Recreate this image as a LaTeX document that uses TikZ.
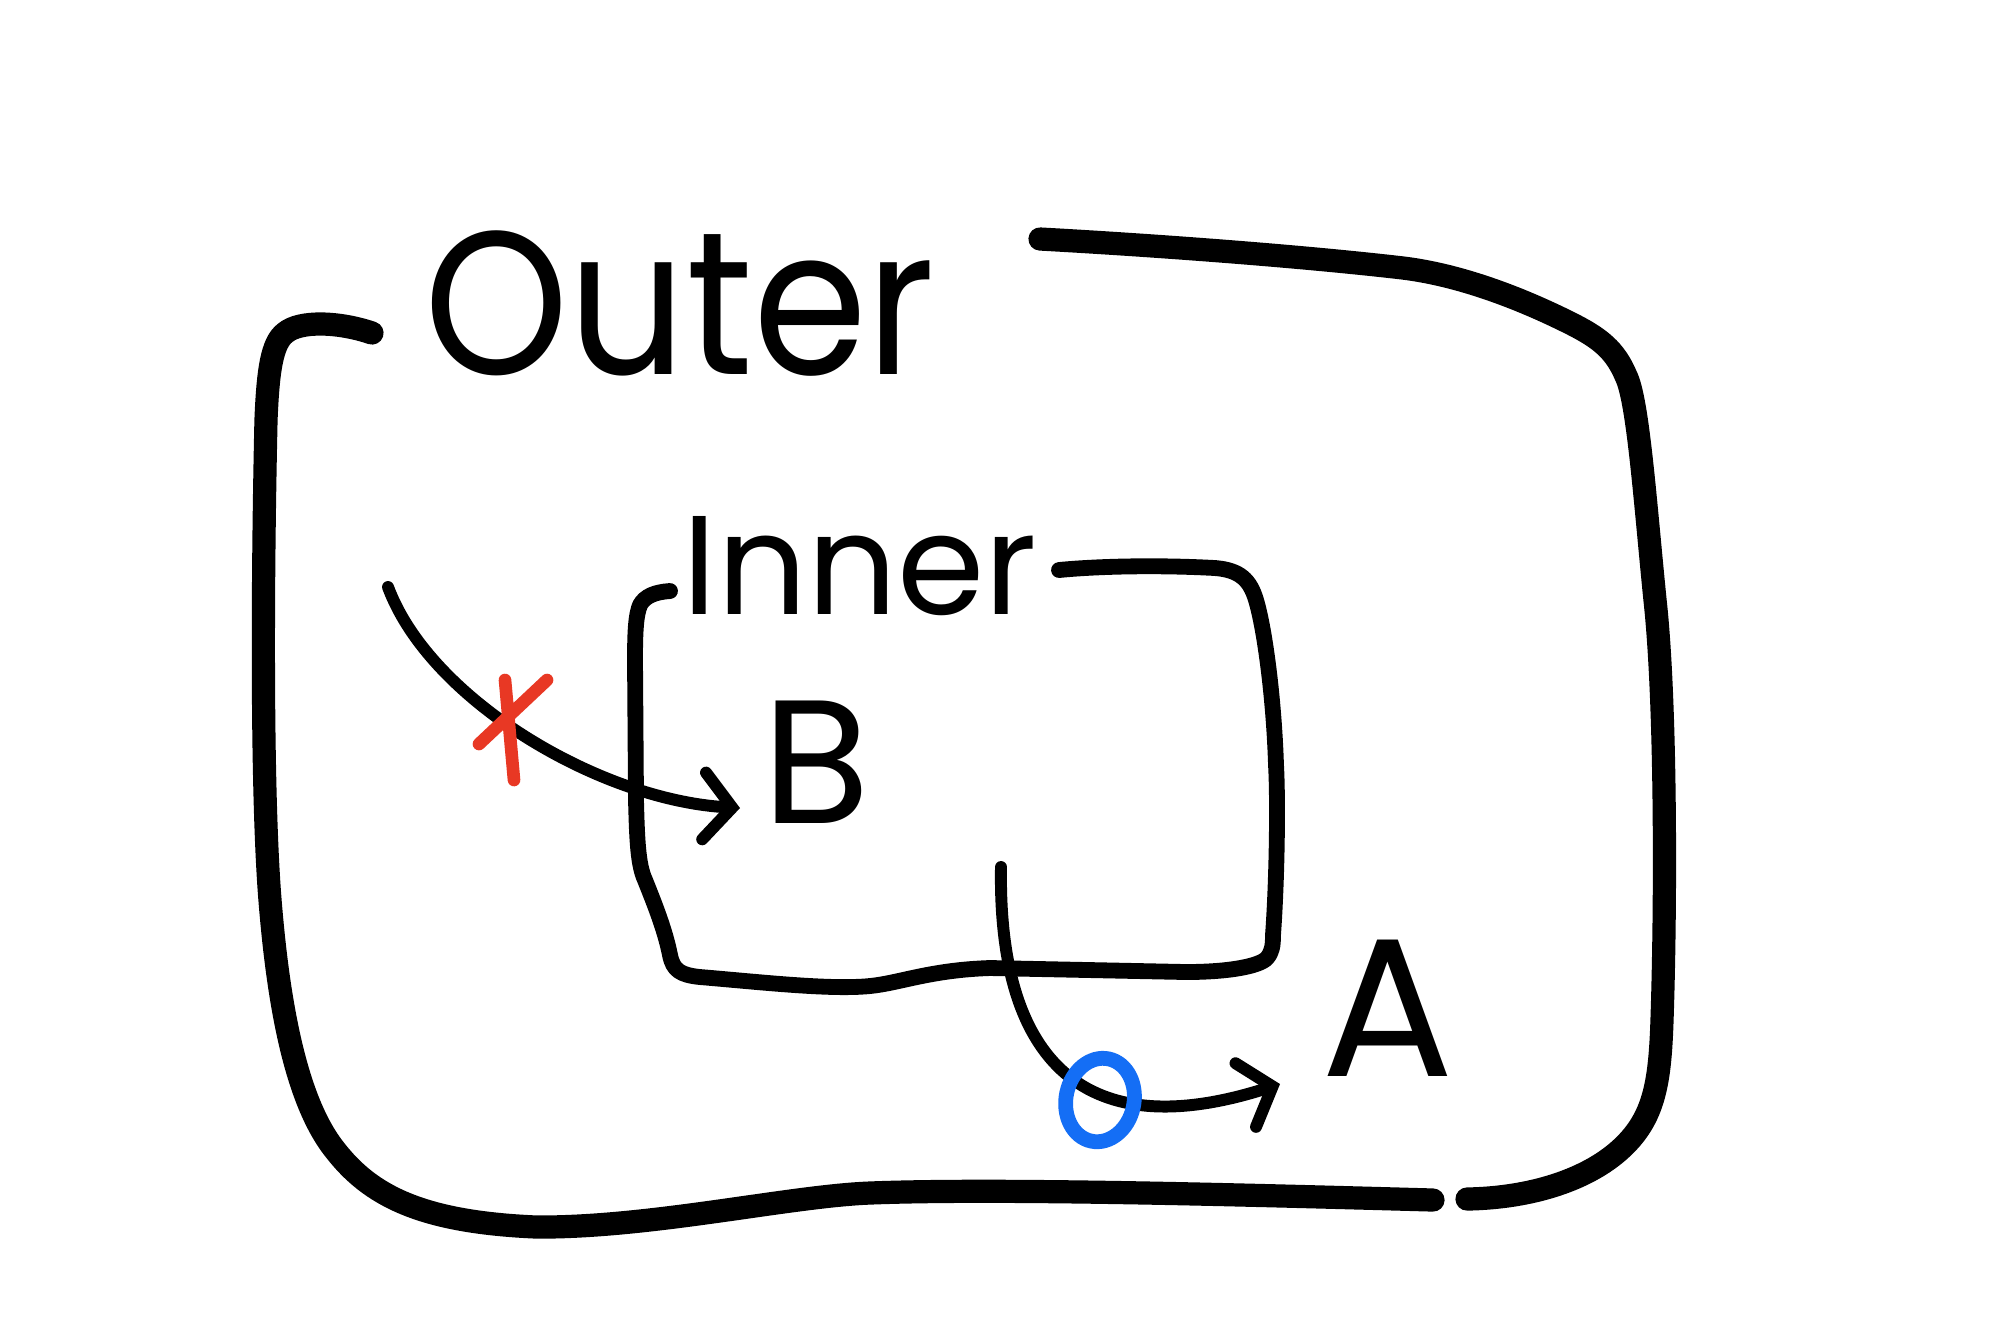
\documentclass[tikz,border=0pt]{standalone}
\usepackage{fontspec}
\setmainfont{Poppins}
\usetikzlibrary{arrows.meta,shapes.geometric}
\definecolor{markblue}{RGB}{20,110,245}
\definecolor{markred}{RGB}{232,56,36}
\begin{document}
\begin{tikzpicture}[x=0.01cm,y=-0.01cm,
  outerline/.style={line width=6.6pt,line cap=round,line join=round},
  innerline/.style={line width=4.5pt,line cap=round,line join=round},
  arrowline/.style={line width=3.4pt,line cap=round,-{Straight Barb[length=8pt,width=19pt,line cap=round]}},
  lbl/.style={inner sep=0pt,text=black}]
\useasboundingbox[fill=white] (0,0) rectangle (2000,1329);
% Outer box, left part
\draw[outerline] (372,333) .. controls (340,322) and (300,320) .. (285,333)
  .. controls (272,343) and (268,370) .. (266,420)
  .. controls (262,600) and (262,800) .. (270,900)
  .. controls (278,1000) and (295,1100) .. (335,1150)
  .. controls (370,1195) and (420,1222) .. (536,1227)
  .. controls (650,1228) and (790,1196) .. (870,1193)
  .. controls (1000,1188) and (1250,1195) .. (1433,1200);
% Outer box, right part
\draw[outerline] (1467,1199) .. controls (1530,1198) and (1590,1180) .. (1625,1145)
  .. controls (1655,1115) and (1660,1080) .. (1662,1020)
  .. controls (1666,900) and (1666,700) .. (1655,600)
  .. controls (1645,500) and (1638,400) .. (1626,376)
  .. controls (1615,350) and (1600,338) .. (1570,323)
  .. controls (1520,298) and (1460,275) .. (1403,268)
  .. controls (1300,256) and (1150,245) .. (1040,239);
% Inner box
\draw[innerline] (670,591) .. controls (655,592) and (645,596) .. (640,605)
  .. controls (636,615) and (635,630) .. (635,660)
  -- (636,800) .. controls (637,840) and (638,865) .. (645,880)
  .. controls (655,905) and (665,930) .. (670,955)
  .. controls (673,970) and (680,975) .. (700,977)
  .. controls (760,982) and (830,990) .. (870,986)
  .. controls (900,983) and (930,970) .. (990,968)
  -- (1186,972) .. controls (1230,972) and (1260,966) .. (1267,958)
  .. controls (1272,952) and (1273,946) .. (1273,935)
  .. controls (1277,880) and (1278,800) .. (1276,765)
  .. controls (1274,700) and (1265,630) .. (1256,600)
  .. controls (1250,580) and (1240,570) .. (1215,568)
  .. controls (1160,565) and (1100,566) .. (1059,570);
% labels
\node[lbl,font=\fontsize{58}{58}\selectfont] (outer) at (680,304) {\scalebox{0.9}[1]{Outer}};
\node[lbl,font=\fontsize{40}{40}\selectfont] (inner) at (860,566) {Inner};
\node[lbl,font=\fontsize{50}{50}\selectfont] (b) at (816,762) {B};
\node[lbl,font=\fontsize{56}{56}\selectfont] (a) at (1388,1008) {A};
% arrow to B
\coordinate (s1) at (388,587);
\coordinate (e1) at (740,808);
\draw[arrowline] (s1) .. controls (430,700) and (600,800) .. (e1);
% red X
\coordinate (x1) at (505,680); \coordinate (x2) at (514,780);
\coordinate (x3) at (479,744); \coordinate (x4) at (547,680);
\draw[markred,line width=3.6pt,line cap=round] (x1) -- (x2) (x3) -- (x4);
% arrow to A
\coordinate (s2) at (1001,867);
\coordinate (e2) at (1280,1084);
\draw[arrowline] (s2) .. controls (998,1050) and (1075,1150) .. (e2);
% blue circle
\node[draw=markblue,line width=4.2pt,ellipse,rotate=-12,minimum width=0.68cm,minimum height=0.84cm,inner sep=0pt] (c) at (1100,1100) {};
\end{tikzpicture}
\end{document}
